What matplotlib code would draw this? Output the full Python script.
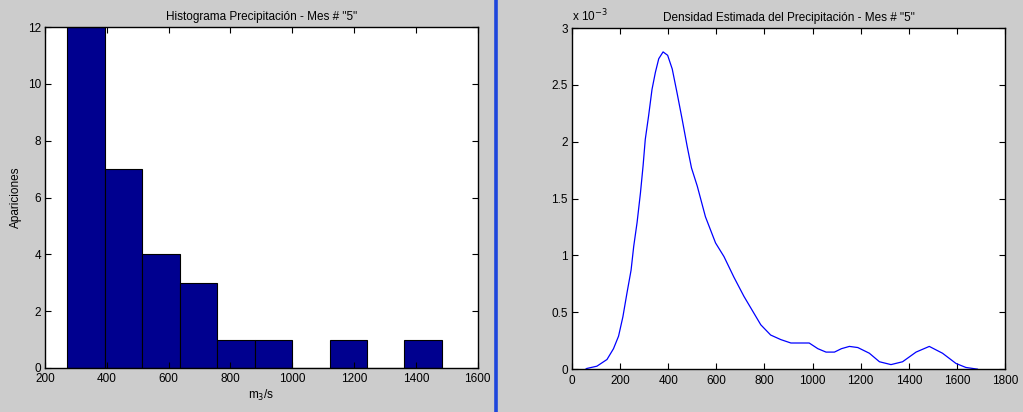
"""Histograma y densidad estimada de precipitación (estilo MATLAB)."""

import matplotlib
matplotlib.use("Agg")
import matplotlib.pyplot as plt
from matplotlib.lines import Line2D

# histogram bins
bin_edges = [272, 393, 514, 636, 757, 878, 999, 1121, 1242, 1363, 1485]
bin_counts = [12, 7, 4, 3, 1, 1, 0, 1, 0, 1]

# estimated density (units of 1e-3)
dens_x = [58, 62, 104, 146, 173, 194, 212, 229, 246, 257, 271, 285, 296, 305, 319,
          333, 347, 361, 379, 398, 417, 437, 458, 479, 497, 521, 555, 597, 632, 673,
          715, 757, 785, 826, 868, 910, 986, 1022, 1056, 1091, 1120, 1153, 1188, 1236,
          1278, 1326, 1374, 1430, 1485, 1540, 1596, 1637, 1685]
dens_y = [0.0, 0.006, 0.026, 0.085, 0.18, 0.29, 0.46, 0.67, 0.87, 1.08, 1.29, 1.55,
          1.79, 2.02, 2.23, 2.46, 2.61, 2.73, 2.79, 2.76, 2.64, 2.43, 2.20, 1.96, 1.77,
          1.61, 1.34, 1.11, 0.99, 0.81, 0.64, 0.49, 0.39, 0.30, 0.26, 0.23, 0.23, 0.18,
          0.15, 0.15, 0.18, 0.20, 0.19, 0.14, 0.065, 0.04, 0.065, 0.15, 0.20, 0.14,
          0.05, 0.015, 0.0]

hist_xticks = [200, 400, 600, 800, 1000, 1200, 1400, 1600]
hist_yticks = [0, 2, 4, 6, 8, 10, 12]
dens_xticks = [0, 200, 400, 600, 800, 1000, 1200, 1400, 1600, 1800]
dens_yticks = [0, 0.5, 1, 1.5, 2, 2.5, 3]
dens_ylabels = ["0", "0.5", "1", "1.5", "2", "2.5", "3"]

plt.rcParams["font.family"] = ["Liberation Sans", "DejaVu Sans"]
plt.rcParams["font.size"] = 8.5

fig = plt.figure(figsize=(10.23, 4.12), dpi=100, facecolor="#cccccc")
ax1 = fig.add_axes([0.044, 0.107, 0.423, 0.827])
ax2 = fig.add_axes([0.559, 0.104, 0.4235, 0.828])


def matlab_style(ax):
    ax.tick_params(direction="in", top=True, right=True, length=4, width=0.8, pad=3)
    ax.tick_params(axis="x", pad=4)
    for spine in ax.spines.values():
        spine.set_linewidth(1.0)


# left: histogram
widths = [b - a for a, b in zip(bin_edges[:-1], bin_edges[1:])]
ax1.bar(bin_edges[:-1], bin_counts, width=widths, align="edge",
        color="#00008f", edgecolor="black", linewidth=0.8)
ax1.set_xlim(200, 1600)
ax1.set_ylim(0, 12)
ax1.set_xticks(hist_xticks)
ax1.set_yticks(hist_yticks)
ax1.set_title('Histograma Precipitación - Mes # "5"', fontsize=8.5, pad=5)
ax1.set_xlabel("m$_3$/s", labelpad=2)
ax1.set_ylabel("Apariciones", labelpad=4)
matlab_style(ax1)

# right: density
ax2.plot(dens_x, [y * 1e-3 for y in dens_y], color="#0000ff", linewidth=0.9)
ax2.set_xlim(0, 1800)
ax2.set_ylim(0, 3e-3)
ax2.set_xticks(dens_xticks)
ax2.set_yticks([v * 1e-3 for v in dens_yticks])
ax2.set_yticklabels(dens_ylabels)
ax2.set_title('Densidad Estimada del Precipitación - Mes # "5"', fontsize=8.5, pad=5)
ax2.text(0.0, 1.012, r"x 10$^{-3}$", transform=ax2.transAxes, ha="left", va="bottom",
         fontsize=8.5)
matlab_style(ax2)

# blue separator between the panels
fig.add_artist(Line2D([0.4848, 0.4848], [0, 1], transform=fig.transFigure,
                      color="#1e46dc", linewidth=2.6))

fig.savefig("out.png", dpi=100, facecolor=fig.get_facecolor())
